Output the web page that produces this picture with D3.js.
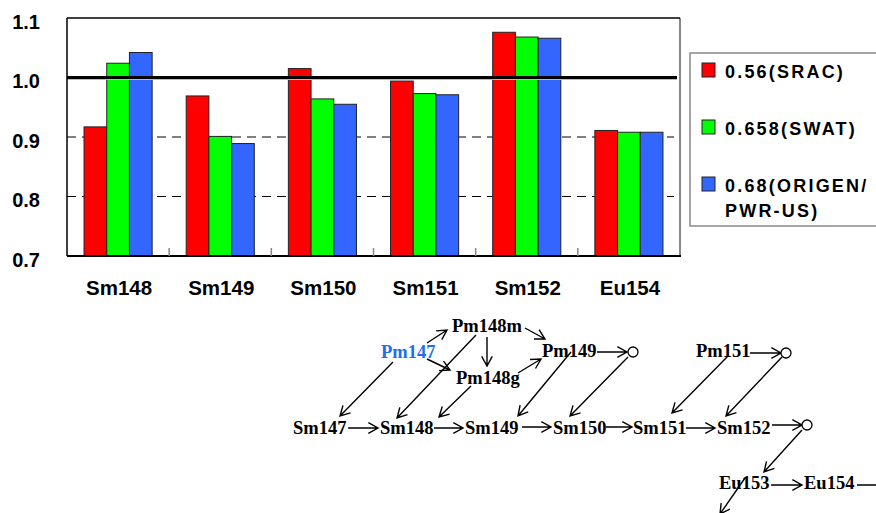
<!DOCTYPE html>
<html>
<head>
<meta charset="utf-8">
<script src="https://cdn.jsdelivr.net/npm/d3@7"></script>
<style>
  html, body { margin: 0; padding: 0; background: #fff; }
  svg { display: block; }
</style>
</head>
<body>
<svg id="chart" width="876" height="513"></svg>
<script>
// Nuclides on the x axis
const categories = ["Sm148", "Sm149", "Sm150", "Sm151", "Sm152", "Eu154"];
// Series names (legend) and their colours
const seriesNames = ["0.56(SRAC)", "0.658(SWAT)", "0.68(ORIGEN/PWR-US)"];
const seriesColors = ["#ff0000", "#00ff00", "#3366ff"];
// C/E values per series, one per nuclide
const sracValues   = [0.917, 0.969, 1.015, 0.994, 1.076, 0.911];
const swatValues   = [1.024, 0.901, 0.964, 0.973, 1.068, 0.908];
const origenValues = [1.042, 0.889, 0.955, 0.971, 1.066, 0.908];
const seriesValues = [sracValues, swatValues, origenValues];
// Y axis ticks
const yTicks = [0.7, 0.8, 0.9, 1.0, 1.1];
const gridValues = [0.8, 0.9];
const referenceValue = 1.0;

const svg = d3.select("#chart");
const plot = { left: 67, right: 680, top: 18, bottom: 256 };

const y = d3.scaleLinear().domain([0.7, 1.1]).range([plot.bottom, plot.top]);
const x0 = d3.scaleBand().domain(categories).range([plot.left, plot.right])
  .paddingInner(1 / 3).paddingOuter(1 / 6);
const x1 = d3.scaleBand().domain(d3.range(seriesNames.length)).range([0, x0.bandwidth()]);
const step = x0.step();

// dashed grid lines
svg.append("g").selectAll("line").data(gridValues).join("line")
  .attr("x1", plot.left).attr("x2", plot.right - 6)
  .attr("y1", d => y(d)).attr("y2", d => y(d))
  .attr("stroke", "#000").attr("stroke-width", 1)
  .attr("stroke-dasharray", "9,6");

// bars
const groups = svg.append("g").selectAll("g").data(categories).join("g")
  .attr("transform", c => `translate(${x0(c)},0)`);
groups.selectAll("rect")
  .data((c, i) => seriesValues.map((vals, s) => ({ s, v: vals[i] })))
  .join("rect")
  .attr("x", d => x1(d.s))
  .attr("width", x1.bandwidth())
  .attr("y", d => y(d.v))
  .attr("height", d => y(0.7) - y(d.v))
  .attr("fill", d => seriesColors[d.s])
  .attr("stroke", "#222").attr("stroke-width", 1);

// reference line at 1.0
svg.append("line")
  .attr("x1", plot.left).attr("x2", plot.right - 3)
  .attr("y1", y(referenceValue) + 1).attr("y2", y(referenceValue) + 1)
  .attr("stroke", "#bbb").attr("stroke-width", 3);
svg.append("line")
  .attr("x1", plot.left).attr("x2", plot.right - 3)
  .attr("y1", y(referenceValue)).attr("y2", y(referenceValue))
  .attr("stroke", "#000").attr("stroke-width", 3);

// frame
svg.append("line").attr("x1", plot.right).attr("x2", plot.right)
  .attr("y1", plot.top).attr("y2", plot.bottom).attr("stroke", "#888").attr("stroke-width", 2);
svg.append("line").attr("x1", plot.left).attr("x2", plot.right)
  .attr("y1", plot.top).attr("y2", plot.top).attr("stroke", "#000").attr("stroke-width", 1.5);
svg.append("line").attr("x1", plot.left).attr("x2", plot.left)
  .attr("y1", plot.top).attr("y2", plot.bottom).attr("stroke", "#000").attr("stroke-width", 1.5);
svg.append("line").attr("x1", plot.left).attr("x2", plot.right + 1)
  .attr("y1", plot.bottom).attr("y2", plot.bottom).attr("stroke", "#000").attr("stroke-width", 2);

// category boundary ticks
svg.append("g").selectAll("line").data(d3.range(1, categories.length)).join("line")
  .attr("x1", i => plot.left + i * step).attr("x2", i => plot.left + i * step)
  .attr("y1", plot.bottom - 8).attr("y2", plot.bottom)
  .attr("stroke", "#888").attr("stroke-width", 1.5);

// y axis labels
const yAxis = d3.axisLeft(y).tickValues(yTicks).tickFormat(d3.format(".1f"))
  .tickSize(0).tickPadding(27);
const yg = svg.append("g").attr("transform", `translate(${plot.left},0)`).call(yAxis);
yg.select(".domain").remove();
yg.selectAll("text")
  .attr("dy", "0.5em")
  .style("font-family", "'Liberation Sans', Arial, sans-serif")
  .style("font-weight", "bold").style("font-size", "20px").attr("fill", "#000");

// x axis labels, centred under each bar group
svg.append("g").selectAll("text").data(categories).join("text")
  .attr("x", c => x0(c) + x0.bandwidth() / 2 + 1).attr("y", 295)
  .attr("text-anchor", "middle")
  .style("font-family", "'Liberation Sans', Arial, sans-serif")
  .style("font-weight", "bold").style("font-size", "20.5px")
  .text(c => c);

// legend
const legend = svg.append("g");
legend.append("rect").attr("x", 690).attr("y", 53).attr("width", 200).attr("height", 173)
  .attr("fill", "none").attr("stroke", "#888").attr("stroke-width", 1.5);
const legendLines = [["0.56(SRAC)"], ["0.658(SWAT)"], ["0.68(ORIGEN/", "PWR-US)"]];
const legendRow = 57;
seriesNames.forEach((name, i) => {
  const ly = 63 + i * legendRow;
  legend.append("rect").attr("x", 702).attr("y", ly).attr("width", 13).attr("height", 14)
    .attr("fill", seriesColors[i]).attr("stroke", "#222").attr("stroke-width", 1);
  const t = legend.append("text").attr("x", 725).attr("y", ly + 15)
    .style("font-family", "'Liberation Sans', Arial, sans-serif")
    .style("font-weight", "bold").style("font-size", "18px")
    .style("letter-spacing", "2.2px");
  legendLines[i].forEach((line, k) => {
    t.append("tspan").attr("x", 725).attr("dy", k === 0 ? 0 : 25).text(line);
  });
});

// decay / capture chain diagram
const chain = svg.append("g");
const nodeFont = "'Liberation Serif', 'Times New Roman', serif";
const nodes = [
  { name: "Pm148m", x: 452, y: 332 },
  { name: "Pm147", x: 381, y: 358, color: "#1e6ef5" },
  { name: "Pm149", x: 542, y: 357 },
  { name: "Pm151", x: 696, y: 357 },
  { name: "Pm148g", x: 456, y: 384 },
  { name: "Sm147", x: 293, y: 434 },
  { name: "Sm148", x: 380, y: 434 },
  { name: "Sm149", x: 465, y: 434 },
  { name: "Sm150", x: 553, y: 434 },
  { name: "Sm151", x: 633, y: 434 },
  { name: "Sm152", x: 717, y: 434 },
  { name: "Eu153", x: 719, y: 489 },
  { name: "Eu154", x: 804, y: 489 }
];
chain.selectAll("text").data(nodes).join("text")
  .attr("x", d => d.x).attr("y", d => d.y)
  .attr("fill", d => d.color || "#000")
  .style("font-family", nodeFont).style("font-weight", "bold").style("font-size", "18.5px")
  .text(d => d.name);

const circles = [[633, 352], [786, 353], [807, 425]];
const arrows = [
  [393, 362, 340, 416], [476, 335, 397, 418], [471, 386, 439, 417],
  [427, 343, 447, 330], [427, 359, 450, 370], [487, 337, 487, 366],
  [525, 328, 545, 339], [518, 373, 541, 359], [571, 352, 518, 416],
  [597, 352, 627, 352], [628, 357, 570, 416],
  [348, 428, 378, 428], [434, 428, 463, 428], [522, 427, 551, 427],
  [606, 427, 632, 427], [686, 428, 715, 428], [772, 425, 802, 425],
  [728, 356, 672, 413], [750, 353, 781, 353], [782, 357, 726, 416],
  [802, 430, 764, 472], [771, 485, 802, 485], [857, 485, 888, 485],
  [745, 478, 720, 514]
];
const head = 11, spread = 0.5;
arrows.forEach(([xa, ya, xb, yb]) => {
  const a = Math.atan2(yb - ya, xb - xa);
  const p = d3.path();
  p.moveTo(xa, ya); p.lineTo(xb, yb);
  p.moveTo(xb - head * Math.cos(a - spread), yb - head * Math.sin(a - spread));
  p.lineTo(xb, yb);
  p.lineTo(xb - head * Math.cos(a + spread), yb - head * Math.sin(a + spread));
  chain.append("path").attr("d", p.toString())
    .attr("fill", "none").attr("stroke", "#000").attr("stroke-width", 1.4);
});
chain.selectAll("circle").data(circles).join("circle")
  .attr("cx", d => d[0]).attr("cy", d => d[1]).attr("r", 5)
  .attr("fill", "#fff").attr("stroke", "#000").attr("stroke-width", 1.3);
</script>
</body>
</html>
